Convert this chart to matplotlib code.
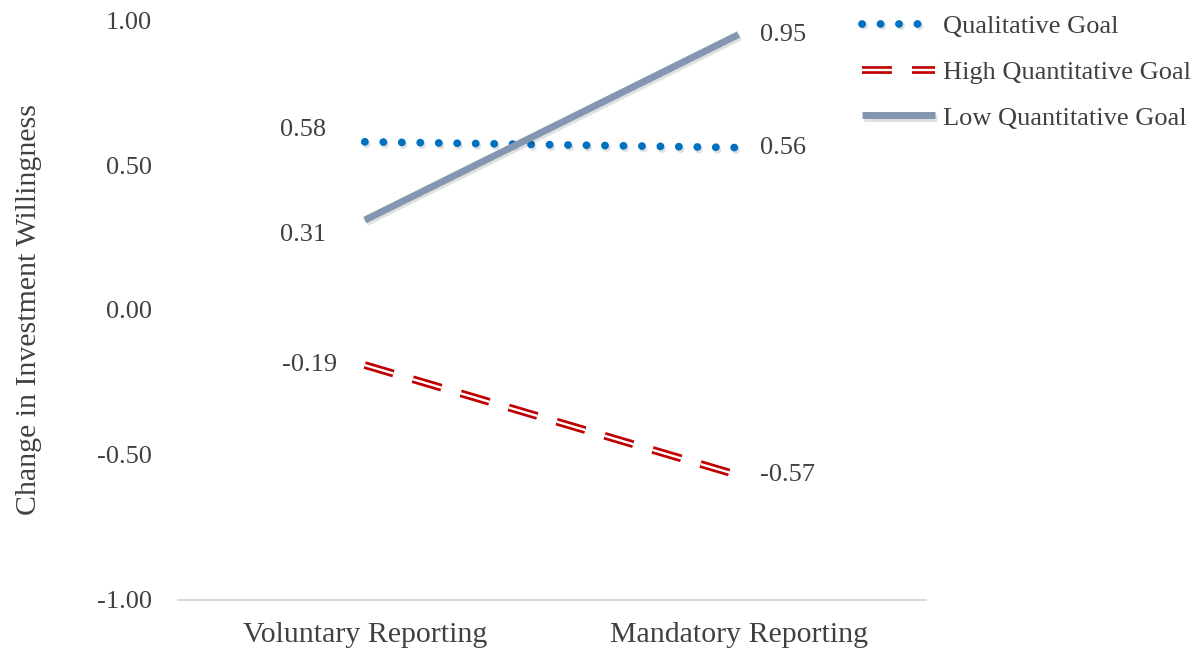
import matplotlib.pyplot as plt
import matplotlib.patheffects as pe

plt.rcParams['font.family'] = ['Liberation Serif', 'DejaVu Serif']
plt.rcParams['lines.scale_dashes'] = False

# Data
conditions = ['Voluntary Reporting', 'Mandatory Reporting']
qualitative = [0.58, 0.56]
high_quant = [-0.19, -0.57]
low_quant = [0.31, 0.95]
series_names = ['Qualitative Goal', 'High Quantitative Goal', 'Low Quantitative Goal']

text_color = '#404040'
shadow = pe.SimpleLineShadow(offset=(1.2, -1.8), shadow_color='black', alpha=0.12)

fig = plt.figure(figsize=(12.02, 6.54), dpi=100)
ax = fig.add_axes([0.148, 0.0826, 0.622, 0.8868])

x = range(len(conditions))

ax.plot(x, qualitative, color='#0070C0', linewidth=5.6, linestyle=(0, (0.1, 13.2)),
        dash_capstyle='round', label=series_names[0],
        path_effects=[shadow, pe.Normal()])
ax.plot(x, high_quant, color='white', linewidth=1.7, linestyle=(0, (21.5, 14.5)),
        dash_capstyle='butt', label=series_names[1],
        path_effects=[pe.Stroke(linewidth=5.6, foreground='#C00000'), pe.Normal()])
ax.plot(x, low_quant, color='#8497B0', linewidth=5.0, solid_capstyle='butt',
        label=series_names[2], path_effects=[shadow, pe.Normal()])

# Data labels
lab = dict(fontsize=19, color=text_color, va='center')
ax.text(-0.165, 0.62, f'{qualitative[0]:.2f}', ha='center', **lab)
ax.text(-0.165, 0.26, f'{low_quant[0]:.2f}', ha='center', **lab)
ax.text(-0.147, -0.19, f'{high_quant[0]:.2f}', ha='center', **lab)
ax.text(1.058, low_quant[1], f'{low_quant[1]:.2f}', ha='left', **lab)
ax.text(1.058, qualitative[1], f'{qualitative[1]:.2f}', ha='left', **lab)
ax.text(1.058, high_quant[1], f'{high_quant[1]:.2f}', ha='left', **lab)

ax.set_xlim(-0.5, 1.5)
ax.set_ylim(-1.0, 1.0)
ax.set_xticks(list(x))
ax.set_xticklabels(conditions, fontsize=21.5, color=text_color)
ax.set_yticks([-1.0, -0.5, 0.0, 0.5, 1.0])
ax.set_yticklabels([f'{v:.2f}' for v in [-1.0, -0.5, 0.0, 0.5, 1.0]],
                   fontsize=19, color=text_color)
ax.tick_params(axis='both', length=0)
ax.tick_params(axis='y', pad=19)
ax.tick_params(axis='x', pad=16)
ax.set_ylabel('Change in Investment Willingness', fontsize=21.5, color=text_color,
              labelpad=39)

for side in ['top', 'right', 'left']:
    ax.spines[side].set_visible(False)
ax.spines['bottom'].set_color('#D9D9D9')
ax.spines['bottom'].set_linewidth(1.5)

leg = fig.legend(loc='upper left', bbox_to_anchor=(0.717, 0.978), frameon=False,
                 fontsize=19, handlelength=2.77, handletextpad=0.3, labelspacing=0.85,
                 borderpad=0, borderaxespad=0)
for t in leg.get_texts():
    t.set_color(text_color)

fig.savefig('out.png', dpi=100)
